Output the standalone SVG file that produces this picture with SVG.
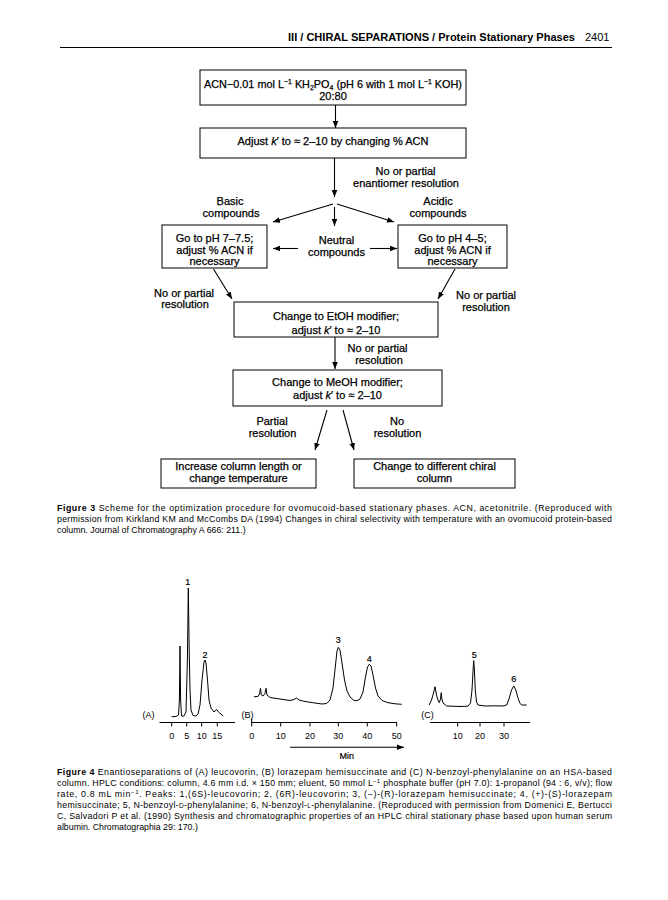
<svg xmlns="http://www.w3.org/2000/svg" width="668" height="900" viewBox="0 0 668 900">
<defs>
<marker id="ah" viewBox="0 0 10 10" refX="10" refY="5" markerWidth="7" markerHeight="7" markerUnits="userSpaceOnUse" orient="auto">
<path d="M0,1 L10,5 L0,9 Z" fill="#000"/>
</marker>
<style>
.fc{font-family:"Liberation Sans",Arial,sans-serif;font-size:11px;fill:#000;stroke:#000;stroke-width:0.25;text-anchor:middle}
.box{fill:#fff;stroke:#000;stroke-width:1}
.con{stroke:#000;stroke-width:1.1;fill:none;marker-end:url(#ah)}
.cap{font-family:"Liberation Sans",Arial,sans-serif;font-size:8.8px;fill:#000}
.ax{font-family:"Liberation Sans",Arial,sans-serif;font-size:9px;fill:#000;text-anchor:middle}
.lbl{font-family:"Liberation Sans",Arial,sans-serif;font-size:9px;fill:#000;text-anchor:middle;stroke:#000;stroke-width:0.2}
.tr{stroke:#000;stroke-width:1;fill:none;stroke-linejoin:round}
.axl{stroke:#000;stroke-width:1;fill:none}
</style>
</defs>
<rect width="668" height="900" fill="#fff"/>

<!-- header -->
<g id="header">
<text x="288" y="41" font-family="Liberation Sans,Arial,sans-serif" font-size="11px" font-weight="bold" textLength="287" lengthAdjust="spacingAndGlyphs">III / CHIRAL SEPARATIONS / Protein Stationary Phases</text>
<text x="585" y="41" font-family="Liberation Sans,Arial,sans-serif" font-size="11px">2401</text>
<line x1="60" y1="47.5" x2="612" y2="47.5" stroke="#000" stroke-width="1"/>
</g>

<!-- connectors -->
<g id="connectors">
<line class="con" x1="335.5" y1="105" x2="335.5" y2="128"/>
<line class="con" x1="334.5" y1="158" x2="334.5" y2="197"/>
<line class="con" x1="333" y1="204" x2="273" y2="222"/>
<line class="con" x1="337" y1="204" x2="394" y2="222"/>
<line class="con" x1="334.5" y1="207" x2="334.5" y2="226"/>
<line class="con" x1="298" y1="248.5" x2="273" y2="248.5"/>
<line class="con" x1="370" y1="248.5" x2="397" y2="248.5"/>
<line class="con" x1="213.5" y1="269" x2="232" y2="299"/>
<line class="con" x1="455" y1="269" x2="438" y2="299"/>
<line class="con" x1="335" y1="337" x2="335" y2="369"/>
<line class="con" x1="327" y1="410" x2="315" y2="450"/>
<line class="con" x1="343" y1="410" x2="354" y2="450"/>
</g>

<g id="n_start">
<rect class="box" x="200" y="70" width="266" height="35"/>
<text class="fc" x="333" y="88" textLength="258" lengthAdjust="spacingAndGlyphs">ACN−0.01 mol L<tspan font-size="7px" dy="-4">−1</tspan><tspan dy="4"> KH</tspan><tspan font-size="7px" dy="2">2</tspan><tspan dy="-2">PO</tspan><tspan font-size="7px" dy="2">4</tspan><tspan dy="-2"> (pH 6 with 1 mol L</tspan><tspan font-size="7px" dy="-4">−1</tspan><tspan dy="4"> KOH)</tspan></text>
<text class="fc" x="333" y="99.5">20:80</text>
</g>

<g id="n_adjust">
<rect class="box" x="200" y="128" width="266" height="30"/>
<text class="fc" x="333" y="145">Adjust <tspan font-style="italic">k</tspan>′ to ≈ 2–10 by changing % ACN</text>
</g>

<g id="l_noenant">
<text class="fc" x="405.5" y="175">No or partial</text>
<text class="fc" x="406" y="187">enantiomer resolution</text>
</g>
<g id="l_basic">
<text class="fc" x="230" y="205">Basic</text>
<text class="fc" x="231" y="217">compounds</text>
</g>
<g id="l_acidic">
<text class="fc" x="438" y="205">Acidic</text>
<text class="fc" x="438" y="217">compounds</text>
</g>
<g id="l_neutral">
<text class="fc" x="336.5" y="244">Neutral</text>
<text class="fc" x="336.5" y="256">compounds</text>
</g>

<g id="n_basic">
<rect class="box" x="162" y="225" width="105" height="43"/>
<text class="fc" x="214.5" y="242">Go to pH 7–7.5;</text>
<text class="fc" x="214.5" y="254">adjust % ACN if</text>
<text class="fc" x="214.5" y="265">necessary</text>
</g>

<g id="n_acidic">
<rect class="box" x="398" y="225" width="109" height="43"/>
<text class="fc" x="452.5" y="242">Go to pH 4–5;</text>
<text class="fc" x="452.5" y="254">adjust % ACN if</text>
<text class="fc" x="452.5" y="265">necessary</text>
</g>

<g id="l_left_res">
<text class="fc" x="184" y="297">No or partial</text>
<text class="fc" x="185" y="308">resolution</text>
</g>
<g id="l_right_res">
<text class="fc" x="486" y="299">No or partial</text>
<text class="fc" x="486" y="311">resolution</text>
</g>

<g id="n_etoh">
<rect class="box" x="234" y="302" width="204" height="35"/>
<text class="fc" x="336" y="320">Change to EtOH modifier;</text>
<text class="fc" x="336" y="333.5">adjust <tspan font-style="italic">k</tspan>′ to ≈ 2–10</text>
</g>

<g id="l_mid_res">
<text class="fc" x="377.5" y="352">No or partial</text>
<text class="fc" x="379" y="364">resolution</text>
</g>

<g id="n_meoh">
<rect class="box" x="233" y="370" width="209" height="36"/>
<text class="fc" x="337.5" y="385.5">Change to MeOH modifier;</text>
<text class="fc" x="337.5" y="399">adjust <tspan font-style="italic">k</tspan>′ to ≈ 2–10</text>
</g>

<g id="l_partial">
<text class="fc" x="272" y="425">Partial</text>
<text class="fc" x="272.5" y="437">resolution</text>
</g>
<g id="l_nores">
<text class="fc" x="397" y="425">No</text>
<text class="fc" x="397.5" y="437">resolution</text>
</g>

<g id="n_increase">
<rect class="box" x="161" y="459" width="155" height="29"/>
<text class="fc" x="238.5" y="469.5">Increase column length or</text>
<text class="fc" x="238.5" y="482">change temperature</text>
</g>

<g id="n_change">
<rect class="box" x="354" y="459" width="161" height="29"/>
<text class="fc" x="434.5" y="469.5">Change to different chiral</text>
<text class="fc" x="434.5" y="482">column</text>
</g>

<!-- Figure 3 caption -->
<g id="caption3" class="cap">
<text x="57" y="511" textLength="555" lengthAdjust="spacing"><tspan font-weight="bold">Figure 3</tspan>   Scheme for the optimization procedure for ovomucoid-based stationary phases. ACN, acetonitrile. (Reproduced with</text>
<text x="57" y="522" textLength="555" lengthAdjust="spacing">permission from Kirkland KM and McCombs DA (1994) Changes in chiral selectivity with temperature with an ovomucoid protein-based</text>
<text x="57" y="533">column. Journal of Chromatography A 666: 211.)</text>
</g>

<!-- Figure 4 chromatograms -->
<g id="chrom_A">
<path class="tr" d="M171.7,716.7 L176,716.5 L178.5,715 L179.4,700 L180,646 L180.6,700 L181.5,716 L184,716 L186,712 L187.4,660 L188.3,588 L189.2,650 L190,690 L191,710 L193,715.5 L196,716 L198,714 L200,705 L202,680 L204,662 L205,660 L206,663 L207.5,680 L209,700 L211,708 L214,712 L216.7,709.5 L219,712.5 L223.3,716"/>
<text class="lbl" x="187.8" y="585">1</text>
<text class="lbl" x="205" y="658">2</text>
<text class="ax" x="148.5" y="717.5">(A)</text>
<line class="axl" x1="159.5" y1="722.5" x2="235" y2="722.5"/>
<path class="axl" d="M171.7,722.5 v4 M186.7,722.5 v4 M201.7,722.5 v4 M217.3,722.5 v4"/>
<text class="ax" x="171.7" y="738.5">0</text>
<text class="ax" x="186.7" y="738.5">5</text>
<text class="ax" x="201.7" y="738.5">10</text>
<text class="ax" x="217.3" y="738.5">15</text>
</g>

<g id="chrom_B">
<path class="tr" d="M254,696.7 L258,696.5 L259.5,694 L260.5,688.3 L261.3,695 L263,696 L265,693.5 L266,688.3 L267,695 L270,697.5 L280,699 L290,700.5 L294,699.5 L296.7,698 L299,700 L305,701.5 L315,703 L322,704 L326.7,703.5 L330,700 L333,688 L335.5,665 L337,651 L338.3,647.3 L340,650 L342,663 L344.5,680 L347,691 L350,697 L354,700.5 L357,700.7 L360,699 L363,692 L365.5,677 L367.5,667 L369.3,664.3 L371,666 L373,675 L375.5,688 L378,696 L382,700.5 L388,702.7 L395,703.8 L401.7,704.3"/>
<text class="lbl" x="338.3" y="643">3</text>
<text class="lbl" x="369.3" y="661.5">4</text>
<text class="ax" x="247.5" y="717.5">(B)</text>
<line class="axl" x1="251" y1="722.5" x2="397" y2="722.5"/>
<path class="axl" d="M251.7,718.5 v8 M280.7,722.5 v4 M310,722.5 v4 M338.3,722.5 v4 M367.3,722.5 v4 M396.7,722.5 v4"/>
<text class="ax" x="251.7" y="738.5">0</text>
<text class="ax" x="280.7" y="738.5">10</text>
<text class="ax" x="310" y="738.5">20</text>
<text class="ax" x="338.3" y="738.5">30</text>
<text class="ax" x="367.3" y="738.5">40</text>
<text class="ax" x="396.7" y="738.5">50</text>
<line class="con" x1="290" y1="747.3" x2="404" y2="747.3"/>
<text class="ax" x="346.7" y="758.5" style="stroke:#000;stroke-width:0.2">Min</text>
</g>

<g id="chrom_C">
<path class="tr" d="M429.3,705 L431.5,700 L433.5,693 L435,686.7 L436.5,695 L438,700 L439.3,702.7 L440.5,699 L441.2,692.7 L441.9,699 L443,703 L446.7,706 L460,706.5 L468,706.2 L470.5,703 L472,690 L473.2,668 L473.7,660.7 L474.3,668 L475.3,690 L476.5,702 L478,705 L485,706 L495,705.8 L503,706 L506.7,705 L509,699 L511.5,690 L513.7,686 L515.8,690 L518,698 L520,703.5 L521.7,705 L526.7,705"/>
<text class="lbl" x="474.3" y="658">5</text>
<text class="lbl" x="513.7" y="682">6</text>
<text class="ax" x="427.5" y="717.5">(C)</text>
<line class="axl" x1="430" y1="722.5" x2="530" y2="722.5"/>
<path class="axl" d="M457.7,722.5 v4 M480,722.5 v4 M504,722.5 v4"/>
<text class="ax" x="457.7" y="738.5">10</text>
<text class="ax" x="480" y="738.5">20</text>
<text class="ax" x="504" y="738.5">30</text>
</g>

<!-- Figure 4 caption -->
<g id="caption4" class="cap">
<text x="57" y="775" textLength="555" lengthAdjust="spacing"><tspan font-weight="bold">Figure 4</tspan>   Enantioseparations of (A) leucovorin, (B) lorazepam hemisuccinate and (C) N-benzoyl-phenylalanine on an HSA-based</text>
<text x="57" y="786" textLength="555" lengthAdjust="spacing">column. HPLC conditions: column, 4.6 mm i.d. × 150 mm; eluent, 50 mmol L<tspan font-size="6px" dy="-3">−1</tspan><tspan dy="3"> phosphate buffer (pH 7.0): 1-propanol (94 : 6, v/v); flow</tspan></text>
<text x="57" y="797" textLength="555" lengthAdjust="spacing">rate, 0.8 mL min<tspan font-size="6px" dy="-3">−1</tspan><tspan dy="3">.  Peaks:  1,(6S)-leucovorin;  2,  (6R)-leucovorin;  3,  (−)-(R)-lorazepam  hemisuccinate;  4,  (+)-(S)-lorazepam</tspan></text>
<text x="57" y="808" textLength="555" lengthAdjust="spacing">hemisuccinate; 5, N-benzoyl-<tspan font-size="6.5px">D</tspan>-phenylalanine; 6, N-benzoyl-<tspan font-size="6.5px">L</tspan>-phenylalanine. (Reproduced with permission from Domenici E, Bertucci</text>
<text x="57" y="819" textLength="555" lengthAdjust="spacing">C, Salvadori P et al. (1990) Synthesis and chromatographic properties of an HPLC chiral stationary phase based upon human serum</text>
<text x="57" y="830">albumin. Chromatographia 29: 170.)</text>
</g>
</svg>
